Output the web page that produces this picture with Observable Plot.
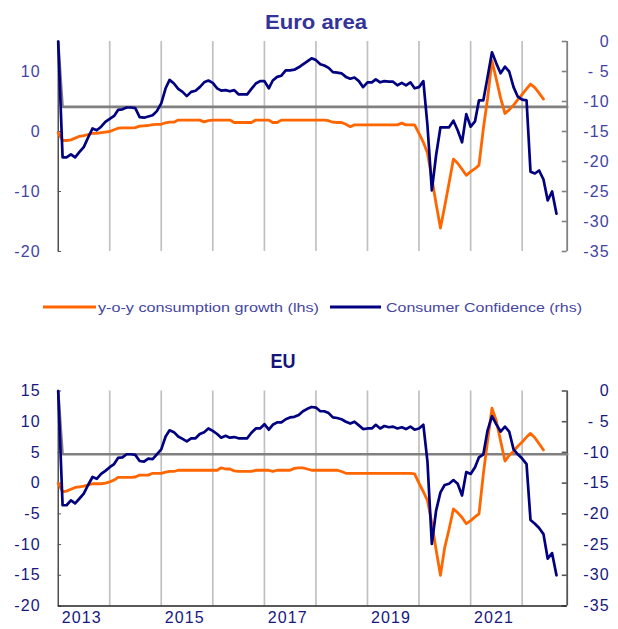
<!DOCTYPE html>
<html><head><meta charset="utf-8">
<script src="https://cdn.jsdelivr.net/npm/d3@7"></script>
<script src="https://cdn.jsdelivr.net/npm/@observablehq/plot@0.6"></script>
<style>
body{margin:0;background:#fff;}
#wrap{position:relative;width:618px;height:629px;overflow:hidden;font-family:"Liberation Sans",Arial,sans-serif;background:#fff;}
#wrap > svg{position:absolute;left:0;}
</style></head><body><div id="wrap"></div>
<script>
// ---- data (monthly, starting January 2013) ----
const eaConfidence = [0,-19.3,-19.3,-18.8,-19.3,-18.4,-17.6,-16.0,-14.5,-14.8,-14.2,-13.4,
 -12.9,-12.4,-11.4,-11.3,-11.0,-11.0,-11.1,-12.6,-12.7,-12.5,-12.3,-11.6,
 -10.3,-7.8,-6.4,-7.0,-7.9,-8.4,-9.1,-8.4,-8.2,-7.6,-6.8,-6.5,
 -6.9,-7.8,-8.2,-8.1,-8.3,-8.1,-8.8,-8.8,-8.8,-7.9,-7.0,-6.6,
 -6.6,-7.8,-6.5,-5.9,-5.7,-4.8,-4.8,-4.7,-4.3,-3.8,-3.3,-2.8,
 -3.1,-3.8,-4.0,-4.4,-5.1,-5.2,-5.3,-5.9,-6.2,-6.0,-6.6,-7.6,
 -6.8,-6.8,-6.3,-6.8,-6.6,-6.7,-6.7,-7.3,-6.9,-7.3,-6.8,-7.8,
 -7.6,-6.6,-14.0,-24.8,-19.0,-14.3,-14.3,-14.3,-13.2,-14.8,-16.8,-12.1,
 -14.2,-13.3,-9.8,-9.8,-5.9,-1.8,-3.6,-5.3,-4.2,-5.0,-7.6,-9.2,
 -9.7,-9.8,-21.7,-22.0,-21.5,-23.0,-26.5,-25.0,-28.7];
const eaConsumption = [-0.2,-1.5,-1.5,-1.4,-1.1,-0.8,-0.7,-0.5,-0.3,-0.3,-0.2,-0.1,
 0.0,0.3,0.55,0.6,0.6,0.6,0.65,0.9,0.95,1.0,1.15,1.2,
 1.2,1.45,1.55,1.55,1.9,1.9,1.9,1.9,1.9,1.9,1.6,1.8,
 1.9,1.9,1.9,1.9,1.9,1.5,1.5,1.5,1.5,1.5,1.9,1.9,
 1.9,1.9,1.5,1.5,1.9,1.9,1.9,1.9,1.9,1.9,1.9,1.9,
 1.9,1.9,1.9,1.8,1.55,1.5,1.5,1.2,0.8,1.1,1.1,1.1,
 1.1,1.1,1.1,1.1,1.1,1.1,1.1,1.1,1.4,1.1,1.1,1.1,
 -0.3,-1.8,-3.6,-7.8,-12.0,-16.1,-12.5,-8.6,-4.6,-5.3,-6.3,-7.3,
 -6.7,-6.2,-5.6,0.5,5.5,11.8,8.8,5.6,3.0,3.6,4.4,5.3,
 6.2,7.1,7.9,7.3,6.4,5.4];
const euConfidence = [0,-18.6,-18.6,-17.8,-18.3,-17.5,-16.7,-15.3,-14.0,-14.3,-13.5,-13.0,
 -12.4,-11.9,-10.9,-10.8,-10.3,-10.3,-10.4,-11.4,-11.5,-11.0,-11.1,-10.3,
 -9.5,-7.4,-6.4,-6.7,-7.4,-7.8,-8.2,-7.7,-7.7,-7.0,-6.7,-6.1,
 -6.5,-7.0,-7.6,-7.3,-7.6,-7.5,-7.7,-7.7,-7.7,-6.8,-6.1,-6.1,
 -5.4,-6.3,-5.5,-5.1,-5.1,-4.6,-4.3,-4.2,-3.9,-3.3,-2.9,-2.6,
 -2.7,-3.3,-3.3,-3.6,-4.3,-4.4,-4.6,-5.0,-5.3,-5.0,-5.6,-6.2,
 -6.1,-6.1,-5.5,-6.1,-5.7,-5.9,-5.8,-6.1,-5.9,-6.2,-5.8,-6.3,
 -6.1,-5.5,-11.5,-24.9,-19.5,-16.5,-15.3,-15.1,-14.5,-15.1,-17.0,-13.2,
 -13.5,-12.4,-10.8,-10.3,-6.4,-4.1,-5.4,-6.6,-5.8,-6.6,-9.5,-10.3,
 -11.0,-11.9,-21.0,-21.6,-22.3,-23.3,-27.3,-26.4,-30.0];
const euConsumption = [0.0,-1.4,-1.3,-1.0,-0.7,-0.6,-0.5,-0.3,-0.1,-0.1,-0.1,0.0,
 0.2,0.5,0.95,0.95,0.95,0.95,1.0,1.3,1.3,1.3,1.6,1.6,
 1.6,1.8,1.9,1.9,2.1,2.1,2.1,2.1,2.1,2.1,2.1,2.1,
 2.1,2.1,2.5,2.3,2.3,2.0,1.9,1.9,1.9,1.9,2.1,2.1,
 2.1,2.1,1.9,2.1,2.1,2.1,2.1,2.4,2.5,2.5,2.3,2.1,
 2.1,2.1,2.1,2.1,2.1,2.1,1.9,1.6,1.6,1.6,1.6,1.6,
 1.6,1.6,1.6,1.6,1.6,1.6,1.6,1.6,1.6,1.6,1.6,1.5,
 0.0,-1.4,-2.8,-6.5,-10.8,-15.0,-10.5,-7.5,-4.2,-4.8,-5.6,-6.6,
 -6.1,-5.5,-5.0,1.5,6.9,12.2,10.2,6.9,3.6,4.5,5.2,6.0,
 6.7,7.5,8.1,7.4,6.4,5.4];
const eaConfidenceAverage = -10.9;
const euConfidenceAverage = -10.3;

const gridYears = [2014,2015,2016,2017,2018,2019,2020,2021,2022];
const labelYears = [2013,2015,2017,2019,2021];
const eaLeftTicks = [10,0,-10,-20];
const euLeftTicks = [15,10,5,0,-5,-10,-15,-20];
const rightTicks = [0,-5,-10,-15,-20,-25,-30,-35];
const rightTickLabels = ["0","- 5","-10","-15","-20","-25","-30","-35"];
const legendLabels = ["y-o-y consumption growth (lhs)","Consumer Confidence (rhs)"];

// ---- helpers ----
const SHIFT = 15; // rhs [-35,0] drawn on lhs [-20,15]
const monthDate = i => new Date(Date.UTC(2013, i, 1));
const xStart = new Date(Date.UTC(2013,0,1));
const xEnd = new Date(Date.UTC(2022,10,16));
const ORANGE = "#ff6600", NAVY = "#000080";

function panel({conf, cons, avg, leftTicks, labelColor, rightAxisColor, bottomAxis, showX, height, marginTop, marginBottom}) {
  const marks = [
    Plot.ruleX(gridYears, {x: y => new Date(Date.UTC(y,0,1)), stroke: "#c0c0c0", strokeWidth: 1.7}),
    Plot.ruleX([xStart], {x: d => d, stroke: "#222", strokeWidth: 1.2}),
    Plot.ruleX([xEnd], {x: d => d, stroke: rightAxisColor, strokeWidth: 1.8}),
    Plot.ruleY(leftTicks, {y: d => d, x1: () => xStart, x2: () => new Date(Date.UTC(2013,0,25)), stroke: "#555", strokeWidth: 1}),
    Plot.ruleY(rightTicks, {y: d => d + SHIFT, x1: () => new Date(Date.UTC(2022,9,12)), x2: () => xEnd, stroke: rightAxisColor, strokeWidth: 1.6}),
    Plot.line([[0, 0], [1, avg], [118.5, avg]], {x: d => d[0] === 118.5 ? xEnd : monthDate(d[0]), y: d => d[1] + SHIFT, stroke: "#808080", strokeWidth: 2.6}),
    Plot.line(cons, {x: (d, i) => monthDate(i), y: d => d, stroke: ORANGE, strokeWidth: 2.8, strokeLinejoin: "round", strokeLinecap: "round"}),
    Plot.line(conf, {x: (d, i) => monthDate(i), y: d => d + SHIFT, stroke: NAVY, strokeWidth: 2.7, strokeLinejoin: "round", strokeLinecap: "round"}),
    Plot.text(leftTicks, {y: d => d, text: d => String(d), frameAnchor: "left", textAnchor: "end", dx: -17.5, fill: labelColor, fontSize: 16}),
    Plot.text(rightTicks, {y: d => d + SHIFT, text: (d, i) => rightTickLabels[i], frameAnchor: "right", textAnchor: "end", dx: 42.5, fill: labelColor, fontSize: 16})
  ];
  if (bottomAxis) marks.push(Plot.ruleY([-20], {y: d => d, stroke: "#222", strokeWidth: 1.4}));
  if (showX) marks.push(Plot.text(labelYears, {x: y => new Date(Date.UTC(y,5,16)), text: y => String(y), frameAnchor: "bottom", dy: 16.5, fill: labelColor, fontSize: 16}));
  return Plot.plot({
    width: 618, height, marginLeft: 57.7, marginRight: 51.3, marginTop, marginBottom,
    x: {type: "utc", domain: [xStart, xEnd], axis: null},
    y: {domain: [-20, 15], axis: null},
    style: {fontFamily: '"Liberation Sans", Arial, sans-serif', letterSpacing: "1.1px", background: "transparent", overflow: "visible"},
    marks
  });
}

const wrap = document.getElementById("wrap");
const top1 = panel({conf: eaConfidence, cons: eaConsumption, avg: eaConfidenceAverage, leftTicks: eaLeftTicks,
  labelColor: "#4343a3", rightAxisColor: "#808080", bottomAxis: false, showX: false, height: 262, marginTop: 41, marginBottom: 11});
top1.style.top = "0px";
wrap.appendChild(top1);
const bot = panel({conf: euConfidence, cons: euConsumption, avg: euConfidenceAverage, leftTicks: euLeftTicks,
  labelColor: "#17177e", rightAxisColor: "#555", bottomAxis: true, showX: true, height: 299, marginTop: 60.5, marginBottom: 23.5});
bot.style.top = "330px";
wrap.appendChild(bot);

// titles and legend
const ov = d3.select(wrap).append("svg").attr("width", 618).attr("height", 629).style("top", "0px")
  .style("font-family", '"Liberation Sans", Arial, sans-serif');
ov.append("text").attr("x", 316).attr("y", 29.3).attr("text-anchor", "middle").attr("font-size", 21).attr("font-weight", "bold")
  .attr("fill", "#333399").attr("textLength", 102).attr("lengthAdjust", "spacingAndGlyphs").text("Euro area");
ov.append("text").attr("x", 283).attr("y", 367.7).attr("text-anchor", "middle").attr("font-size", 21).attr("font-weight", "bold")
  .attr("fill", "#14147a").attr("textLength", 25).attr("lengthAdjust", "spacingAndGlyphs").text("EU");
const leg = [
  {x1: 43, x2: 96, tx: 98, tl: 221, color: ORANGE, label: legendLabels[0]},
  {x1: 330, x2: 381, tx: 386, tl: 196, color: NAVY, label: legendLabels[1]}
];
for (const l of leg) {
  ov.append("line").attr("x1", l.x1).attr("x2", l.x2).attr("y1", 307).attr("y2", 307).attr("stroke", l.color).attr("stroke-width", 3);
  ov.append("text").attr("x", l.tx).attr("y", 311.5).attr("font-size", 13).attr("fill", "#4646a0")
    .attr("textLength", l.tl).attr("lengthAdjust", "spacingAndGlyphs").text(l.label);
}
</script></body></html>
